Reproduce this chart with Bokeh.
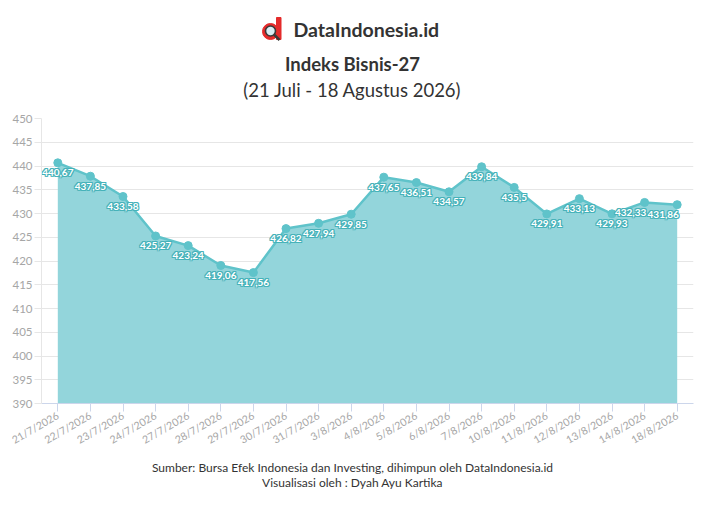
import math
from bokeh.plotting import figure
from bokeh.layouts import column
from bokeh.models import Range1d, FactorRange, ColumnDataSource, FixedTicker
from bokeh.core.properties import value
from bokeh.embed import file_html
from bokeh.resources import INLINE

# ---- data ----
dates = ["21/7/2026", "22/7/2026", "23/7/2026", "24/7/2026", "27/7/2026",
         "28/7/2026", "29/7/2026", "30/7/2026", "31/7/2026", "3/8/2026",
         "4/8/2026", "5/8/2026", "6/8/2026", "7/8/2026", "10/8/2026",
         "11/8/2026", "12/8/2026", "13/8/2026", "14/8/2026", "18/8/2026"]
values = [440.67, 437.85, 433.58, 425.27, 423.24, 419.06, 417.56, 426.82,
          427.94, 429.85, 437.65, 436.51, 434.57, 439.84, 435.5, 429.91,
          433.13, 429.93, 432.33, 431.86]
y_ticks = [390, 395, 400, 405, 410, 415, 420, 425, 430, 435, 440, 445, 450]

brand = "DataIndonesia.id"
title = "Indeks Bisnis-27"
subtitle = "(21 Juli - 18 Agustus 2026)"
source_text = "Sumber: Bursa Efek Indonesia dan Investing, dihimpun oleh DataIndonesia.id"
credit_text = "Visualisasi oleh : Dyah Ayu Kartika"

# ---- style ----
FONT = "Lato"
FILL = "#93d5db"
LINE = "#5fc3ca"
OUTLINE = "#46b2b9"
GRID = "#e6e6e6"
LABEL_GREY = "#a6a6a6"
TEXT = "#333333"
RED = "#e42b2b"

W = 700
H_HEAD, H_CHART, H_FOOT = 100, 355, 50
ML, MR, MT, MB = 41, 7, 18, 52


def blank(height):
    f = figure(width=W, height=height, x_range=Range1d(ML, W - MR), y_range=Range1d(height, 0),
               output_backend="svg", toolbar_location=None,
               x_axis_location=None, y_axis_location=None,
               min_border_left=ML, min_border_right=MR, min_border_top=0, min_border_bottom=0)
    f.grid.visible = False
    f.outline_line_color = None
    f.background_fill_color = "white"
    f.border_fill_color = "white"
    return f


def txt(f, x, y, s, size, style="normal", color=TEXT, align="center"):
    f.text(x=[x], y=[y], text=[s], text_align=align, text_baseline="middle",
           text_font=value(FONT), text_font_size=size, text_font_style=style,
           text_color=color)


# ---- header ----
head = blank(H_HEAD)
# logo: red "d" with magnifier
head.scatter(x=[270], y=[31], size=16, color=RED)
head.quad(left=[276], right=[280.5], top=[17], bottom=[39], color=RED)
head.scatter(x=[270], y=[30.5], size=10, fill_color="#d8eef5", line_color="#3a3a3a", line_width=1.6)
head.segment(x0=[273.5], y0=[34], x1=[279], y1=[39.5], line_color="#3a3a3a", line_width=2.5)
txt(head, 293, 29, brand, "19.5px", style="bold", align="left")
txt(head, 352, 63, title, "18.5px", style="bold")
txt(head, 352, 89, subtitle, "18.5px")

# ---- chart ----
p = figure(width=W, height=H_CHART, x_range=FactorRange(*dates),
           y_range=Range1d(y_ticks[0], y_ticks[-1]),
           output_backend="svg", toolbar_location=None,
           min_border_left=ML, min_border_right=MR,
           min_border_top=MT, min_border_bottom=MB)
p.outline_line_color = None
p.background_fill_color = "white"
p.border_fill_color = "white"

p.xgrid.grid_line_color = None
p.ygrid.grid_line_color = GRID
p.yaxis.ticker = FixedTicker(ticks=y_ticks)

p.yaxis.axis_line_color = GRID
p.yaxis.major_tick_line_color = GRID
p.yaxis.major_tick_out = 7
p.yaxis.major_tick_in = 0
p.yaxis.minor_tick_line_color = None
p.yaxis.major_label_text_color = LABEL_GREY
p.yaxis.major_label_text_font = FONT
p.yaxis.major_label_text_font_size = "11.5px"
p.yaxis.major_label_standoff = 2

p.xaxis.axis_line_color = "#ccd6eb"
p.xaxis.major_tick_line_color = "#ccd6eb"
p.xaxis.major_tick_out = 8
p.xaxis.major_tick_in = 0
p.xaxis.major_label_orientation = math.pi / 6
p.xaxis.major_label_text_color = LABEL_GREY
p.xaxis.major_label_text_font = FONT
p.xaxis.major_label_text_font_size = "10.5px"
p.xaxis.major_label_standoff = 3

base = y_ticks[0]
p.varea(x=dates, y1=[base] * len(values), y2=values, fill_color=FILL, fill_alpha=1)
p.line(dates, values, line_color=LINE, line_width=2.5)
p.scatter(dates, values, size=8, color=LINE)

# data labels (white with teal outline)
label_texts = [("%g" % v).replace(".", ",") for v in values]
shift = [0] * len(values)
shift[-2] = -14
shift[-1] = -14
data = dict(x=dates, y=values, t=label_texts)
offsets = [(-1, -1), (-1, 0), (-1, 1), (0, -1), (0, 1), (1, -1), (1, 0), (1, 1), (0, 0)]
for i, (dx, dy) in enumerate(offsets):
    data["ox%d" % i] = [s + dx for s in shift]
src = ColumnDataSource(data)
for i, (dx, dy) in enumerate(offsets):
    col = "white" if (dx, dy) == (0, 0) else OUTLINE
    p.text(x="x", y="y", text="t", source=src, x_offset="ox%d" % i, y_offset=10 + dy,
           text_align="center", text_baseline="middle", text_color=col,
           text_font=value(FONT), text_font_style="bold", text_font_size="10px")

# ---- footer ----
foot = blank(H_FOOT)
txt(foot, 352, 12, source_text, "12px")
txt(foot, 352, 27, credit_text, "12px")

layout = column(head, p, foot, spacing=0)
open("out.html", "w").write(file_html(layout, INLINE))
